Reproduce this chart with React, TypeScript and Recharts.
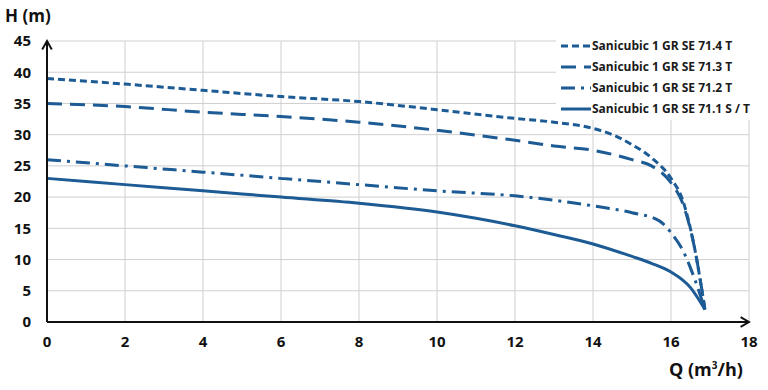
import React from 'react';
import { LineChart, Line, XAxis, YAxis, CartesianGrid } from 'recharts';

const SERIES_NAMES = [
  'Sanicubic 1 GR SE 71.4 T',
  'Sanicubic 1 GR SE 71.3 T',
  'Sanicubic 1 GR SE 71.2 T',
  'Sanicubic 1 GR SE 71.1 S / T',
];

const Q_714 = [0, 2, 4, 6, 8, 10, 12, 13, 14, 14.5, 15, 15.5, 16, 16.3, 16.6, 16.87];
const H_714 = [39, 38.1, 37.1, 36.1, 35.3, 34, 32.6, 32, 31, 30, 28.4, 26.3, 23, 19.5, 12, 2];

const Q_713 = [0, 2, 4, 6, 8, 10, 12, 13, 14, 15, 15.5, 16, 16.3, 16.6, 16.87];
const H_713 = [35, 34.5, 33.6, 32.9, 32, 30.7, 29.1, 28.2, 27.5, 26, 25, 22.3, 19, 12, 2];

const Q_712 = [0, 2, 4, 6, 8, 10, 12, 13, 14, 15, 15.7, 16, 16.3, 16.6, 16.87];
const H_712 = [26, 25, 24, 23, 22, 21, 20.2, 19.5, 18.6, 17.5, 16.2, 14.3, 11.5, 7, 2];

const Q_711 = [0, 2, 4, 6, 8, 10, 11, 12, 13, 14, 15, 15.5, 16, 16.5, 16.87];
const H_711 = [23, 22, 21, 20, 19, 17.6, 16.6, 15.4, 14, 12.5, 10.5, 9.4, 8, 5.5, 2];

const X_TICKS = [0, 2, 4, 6, 8, 10, 12, 14, 16, 18];
const Y_TICKS = [0, 5, 10, 15, 20, 25, 30, 35, 40, 45];

const BLUE = '#1d5b95';
const DASHES = ['7 4', '15 8', '14 6 3 6', undefined];

const toPoints = (q: number[], h: number[]) => q.map((x, i) => ({ q: x, h: h[i] }));

const series = [
  toPoints(Q_714, H_714),
  toPoints(Q_713, H_713),
  toPoints(Q_712, H_712),
  toPoints(Q_711, H_711),
];

const font = '"Open Sans", "DejaVu Sans", sans-serif';

const App: React.FC = () => {
  return (
    <div style={{ position: 'absolute', left: 0, top: 0, width: 768, height: 390, background: '#fff' }}>
      <LineChart width={768} height={390} margin={{ top: 41, right: 19, bottom: 38, left: 0 }}>
        <defs>
          <marker id="arrow" viewBox="0 0 10 10" refX="8" refY="5" markerWidth="6" markerHeight="6" orient="auto-start-reverse">
            <path d="M1,1 L8,5 L1,9" fill="none" stroke="#111" strokeWidth={1.6} />
          </marker>
        </defs>
        <CartesianGrid stroke="#cfcfcf" strokeWidth={1} />
        <XAxis
          type="number"
          dataKey="q"
          domain={[0, 18]}
          ticks={X_TICKS}
          height={30}
          tickLine={false}
          tickMargin={8}
          axisLine={{ stroke: '#111', strokeWidth: 2, markerEnd: 'url(#arrow)' }}
          tick={{ fill: '#111', fontFamily: font, fontWeight: 700, fontSize: 15 }}
        />
        <YAxis
          type="number"
          domain={[0, 45]}
          ticks={Y_TICKS}
          width={47}
          tickLine={false}
          tickMargin={10}
          axisLine={{ stroke: '#111', strokeWidth: 2, markerStart: 'url(#arrow)' }}
          tick={{ fill: '#111', fontFamily: font, fontWeight: 700, fontSize: 15 }}
        />
        {series.map((pts, i) => (
          <Line
            key={SERIES_NAMES[i]}
            data={pts}
            dataKey="h"
            name={SERIES_NAMES[i]}
            type="monotone"
            stroke={BLUE}
            strokeWidth={3}
            strokeDasharray={DASHES[i]}
            dot={false}
            isAnimationActive={false}
          />
        ))}
      </LineChart>
      <div style={{ position: 'absolute', left: 5, top: 4, fontFamily: font, fontWeight: 700, fontSize: 17, color: '#111' }}>
        H (m)
      </div>
      <div style={{ position: 'absolute', left: 669, top: 357, fontFamily: font, fontWeight: 700, fontSize: 18, color: '#111' }}>
        Q (m<sup style={{ fontSize: 10 }}>3</sup>/h)
      </div>
      <div style={{ position: 'absolute', left: 556, top: 34, width: 212, background: '#fff', padding: '1px 0 1px 5px' }}>
        {SERIES_NAMES.map((name, i) => (
          <div key={name} style={{ display: 'flex', alignItems: 'center', height: 21 }}>
            <svg width={30} height={10}>
              <line x1={0} y1={5} x2={30} y2={5} stroke={BLUE} strokeWidth={3} strokeDasharray={DASHES[i]} />
            </svg>
            <span style={{ fontFamily: font, fontWeight: 700, fontSize: 12, color: '#1a1a1a', marginLeft: 1 }}>
              {name}
            </span>
          </div>
        ))}
      </div>
    </div>
  );
};

export default App;
